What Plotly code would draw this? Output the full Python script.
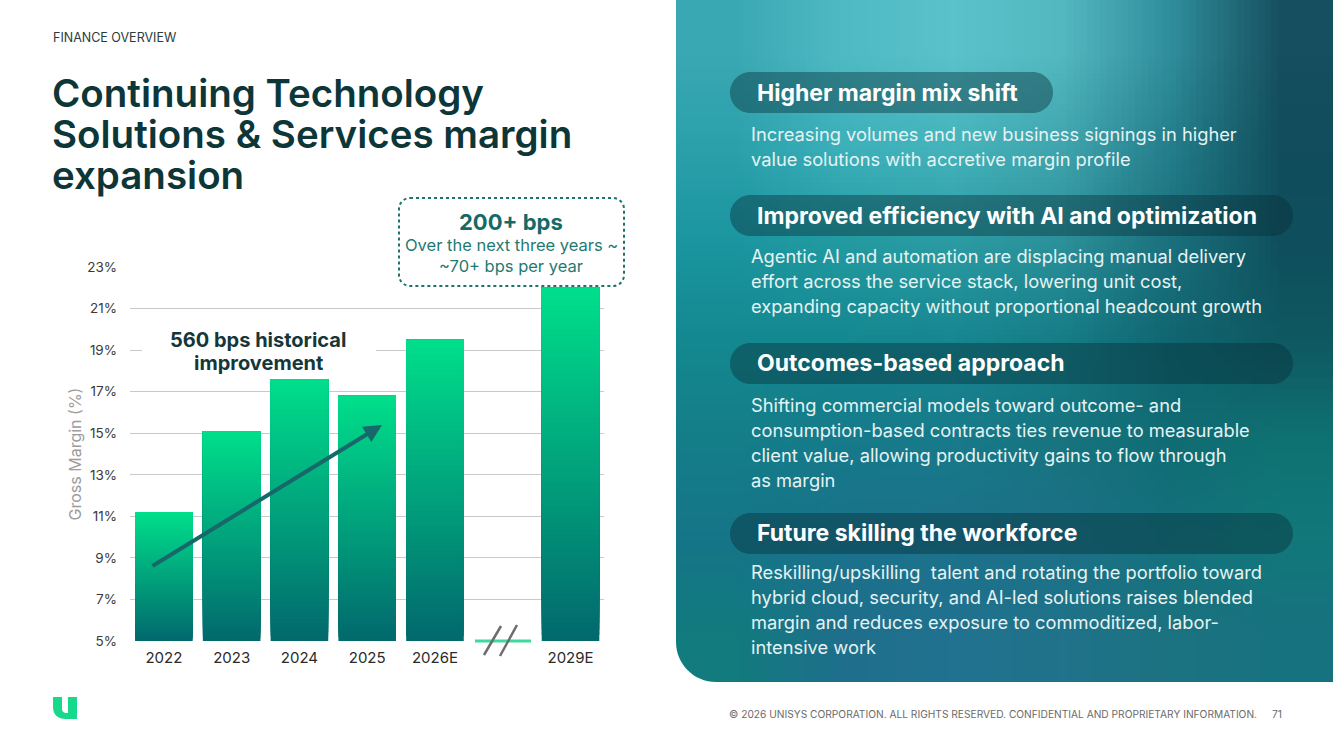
import base64
import struct
import zlib

import plotly.graph_objects as go

# ---------------- data ----------------
categories = ["2022", "2023", "2024", "2025", "2026E", " ", "2029E"]
gross_margin = [11.2, 15.1, 17.6, 16.8, 19.5, None, 22.0]
y_ticks = [5, 7, 9, 11, 13, 15, 17, 19, 21, 23]
y_tick_labels = ["5%", "7%", "9%", "11%", "13%", "15%", "17%", "19%", "21%", "23%"]

title_lines = ["Continuing Technology", "Solutions & Services margin", "expansion"]
section_label = "FINANCE OVERVIEW"
hist_note = ["560 bps historical", "improvement"]
fwd_note = ["200+ bps", "Over the next three years ~", "~70+ bps per year"]

panel_heads = [
    "Higher margin mix shift",
    "Improved efficiency with AI and optimization",
    "Outcomes-based approach",
    "Future skilling the workforce",
]
panel_bodies = [
    ["Increasing volumes and new business signings in higher",
     "value solutions with accretive margin profile"],
    ["Agentic AI and automation are displacing manual delivery",
     "effort across the service stack, lowering unit cost,",
     "expanding capacity without proportional headcount growth"],
    ["Shifting commercial models toward outcome- and",
     "consumption-based contracts ties revenue to measurable",
     "client value, allowing productivity gains to flow through",
     "as margin"],
    ["Reskilling/upskilling  talent and rotating the portfolio toward",
     "hybrid cloud, security, and AI-led solutions raises blended",
     "margin and reduces exposure to commoditized, labor-",
     "intensive work"],
]
footer = "© 2026 UNISYS CORPORATION. ALL RIGHTS RESERVED. CONFIDENTIAL AND PROPRIETARY INFORMATION."
page_no = "71"

# ---------------- helpers ----------------
W, H = 1333, 749
FONT = "Inter"


def px(x):
    return x / W


def py(y):
    return 1 - y / H


def hex2rgb(h):
    h = h.lstrip("#")
    return tuple(int(h[i:i + 2], 16) for i in (0, 2, 4))


def mix(c0, c1, t):
    a, b = hex2rgb(c0), hex2rgb(c1)
    return "rgb(%d,%d,%d)" % tuple(round(a[i] + (b[i] - a[i]) * t) for i in range(3))


def path_str(cmds, close=True):
    s = ""
    for cmd, ps in cmds:
        s += cmd + " " + " ".join("%.5f,%.5f" % (px(a), py(b)) for a, b in ps) + " "
    return s + ("Z" if close else "")


def rrect_path(x0, y0, x1, y1, r):
    k = 0.5523 * r
    return path_str([
        ("M", [(x0 + r, y0)]),
        ("L", [(x1 - r, y0)]),
        ("C", [(x1 - r + k, y0), (x1, y0 + r - k), (x1, y0 + r)]),
        ("L", [(x1, y1 - r)]),
        ("C", [(x1, y1 - r + k), (x1 - r + k, y1), (x1 - r, y1)]),
        ("L", [(x0 + r, y1)]),
        ("C", [(x0 + r - k, y1), (x0, y1 - r + k), (x0, y1 - r)]),
        ("L", [(x0, y0 + r)]),
        ("C", [(x0, y0 + r - k), (x0 + r - k, y0), (x0 + r, y0)]),
    ])


def png_uri(rows):
    h = len(rows)
    w = len(rows[0])
    raw = b"".join(b"\x00" + bytes([c for p in row for c in hex2rgb(p)]) for row in rows)

    def chunk(t, d):
        return struct.pack(">I", len(d)) + t + d + struct.pack(">I", zlib.crc32(t + d) & 0xFFFFFFFF)

    png = (b"\x89PNG\r\n\x1a\n"
           + chunk(b"IHDR", struct.pack(">IIBBBBB", w, h, 8, 2, 0, 0, 0))
           + chunk(b"IDAT", zlib.compress(raw))
           + chunk(b"IEND", b""))
    return "data:image/png;base64," + base64.b64encode(png).decode()


# background colour field of the right panel (style only)
panel_colors = [
    ["#3aa8b3", "#4fbac4", "#5ac2cb", "#54b8c0", "#2f8d9b", "#164f5f"],
    ["#2aa0ab", "#3cb0ba", "#45b3bb", "#3fa4ad", "#237d8a", "#114d5c"],
    ["#1a95a0", "#22999f", "#2a9aa2", "#2a8f98", "#1a6f7c", "#0f4f5c"],
    ["#14888f", "#148790", "#168690", "#157c86", "#106570", "#0e5962"],
    ["#147e88", "#167a8a", "#187a8a", "#17747f", "#106c74", "#0f7272"],
    ["#167589", "#1a728b", "#1c718a", "#1b7086", "#14727d", "#12787a"],
    ["#127b7e", "#1f6f8c", "#217290", "#20738a", "#1c7280", "#177280"],
]

# ---------------- bars (vertical gradient via overlapping layers) ----------------
fig = go.Figure()
N = 60
BAR_TOP = "#00df8b"
BAR_BOT = "#02686d"
floor = y_ticks[0]
for k in range(N):
    t = (k + 0.5) / N
    col = mix(BAR_BOT, BAR_TOP, t)
    base = [None if v is None else floor + (v - floor) * k / N for v in gross_margin]
    hgt = [None if v is None else (v - floor) * (1 - k / N) for v in gross_margin]
    fig.add_trace(go.Bar(x=categories, y=hgt, base=base, marker_color=col,
                         marker_line_width=0, hoverinfo="skip", showlegend=False))

fig.update_layout(
    width=W, height=H,
    margin=dict(l=0, r=0, t=0, b=0, pad=0, autoexpand=False),
    paper_bgcolor="white", plot_bgcolor="rgba(0,0,0,0)",
    barmode="overlay", bargap=0.15,
    showlegend=False, hovermode=False,
    font=dict(family=FONT),
    xaxis=dict(domain=[px(130), px(604.4)], type="category",
               categoryorder="array", categoryarray=categories,
               showgrid=False, zeroline=False, showline=False, automargin=False,
               ticks="", ticklabelstandoff=6,
               tickfont=dict(family=FONT, size=15, color="#2b2b2b")),
    yaxis=dict(domain=[py(641), py(267)], range=[4.999, 23.001],
               tickmode="array", tickvals=y_ticks, ticktext=y_tick_labels,
               showgrid=True, gridcolor="#c9c9c9", gridwidth=1,
               zeroline=False, showline=False, ticks="", automargin=False,
               ticklabelstandoff=12,
               tickfont=dict(family=FONT, size=13.5, color="#3a3a3a"),
               title=dict(text="Gross Margin (%)", standoff=1,
                          font=dict(family=FONT, size=16, color="#9c9c9c"))),
)

# ---------------- right panel background ----------------
fig.add_layout_image(dict(source=png_uri(panel_colors), xref="paper", yref="paper",
                          x=px(676), y=py(0), sizex=px(1333) - px(676), sizey=py(0) - py(682),
                          xanchor="left", yanchor="top", sizing="stretch", layer="below"))

shapes = []
# rounded bottom-left corner mask
r = 40
k = 0.5523 * r
shapes.append(dict(type="path", xref="paper", yref="paper", layer="above",
                   path=path_str([("M", [(676, 682 - r)]), ("L", [(675, 682 - r)]), ("L", [(675, 683)]),
                                  ("L", [(676 + r, 683)]), ("L", [(676 + r, 682)]),
                                  ("C", [(676 + r - k, 682), (676, 682 - r + k), (676, 682 - r)])]),
                   fillcolor="white", line=dict(width=0)))

# heading pills
pill_boxes = [(730, 72, 1053, 113), (730, 195, 1293, 236), (730, 343, 1293, 384), (730, 513, 1293, 554)]
for (x0, y0, x1, y1) in pill_boxes:
    shapes.append(dict(type="path", xref="paper", yref="paper", layer="above",
                       path=rrect_path(x0, y0, x1, y1, (y1 - y0) / 2),
                       fillcolor="rgba(6,46,54,0.42)", line=dict(width=0)))

# dotted callout box
shapes.append(dict(type="path", xref="paper", yref="paper", layer="above",
                   path=rrect_path(399, 198, 624, 286, 11),
                   fillcolor="white", line=dict(color="#1e7468", width=2, dash="dot")))
# white backing behind historical note
shapes.append(dict(type="rect", xref="paper", yref="paper", layer="above",
                   x0=px(142), x1=px(376), y0=py(375), y1=py(324),
                   fillcolor="white", line=dict(width=0)))
# axis break
shapes.append(dict(type="line", xref="paper", yref="paper", layer="above",
                   x0=px(475), x1=px(531), y0=py(641), y1=py(641),
                   line=dict(color="#3fd9a0", width=3)))
for (xa, ya, xb, yb) in [(484, 655, 501, 626), (500, 656, 517, 625)]:
    shapes.append(dict(type="line", xref="paper", yref="paper", layer="above",
                       x0=px(xa), y0=py(ya), x1=px(xb), y1=py(yb),
                       line=dict(color="#6d6d6d", width=2.5)))
# logo
shapes.append(dict(type="path", xref="paper", yref="paper", layer="above",
                   path=path_str([("M", [(53, 697)]), ("L", [(62, 697)]), ("L", [(62, 709)]),
                                  ("C", [(62, 712), (64, 713), (66, 713)]),
                                  ("L", [(68, 713)]), ("L", [(68, 697)]), ("L", [(77, 697)]),
                                  ("L", [(77, 719)]), ("L", [(66, 719)]),
                                  ("C", [(58, 719), (53, 715), (53, 707)])]),
                   fillcolor="#16d98b", line=dict(width=0)))
fig.update_layout(shapes=shapes)

# ---------------- text ----------------
ann = []


def text(x, y, s, size, color, weight=400, anchor="left", family=FONT):
    ann.append(dict(x=px(x), y=py(y), xref="paper", yref="paper", text=s, showarrow=False,
                    xanchor=anchor, yanchor="middle",
                    font=dict(family=family, size=size, color=color, weight=weight)))


text(51, 37, section_label, 12.5, "#2a3b3d")
for i, line in enumerate(title_lines):
    text(50, 93 + 41 * i, line, 38.5, "#0d3638", weight=600)

text(511, 222, fwd_note[0], 22, "#146b66", weight=700, anchor="center")
text(511, 245, fwd_note[1], 16.5, "#1f7a70", anchor="center")
text(511, 266, fwd_note[2], 16.5, "#1f7a70", anchor="center")

text(258, 340, hist_note[0], 20, "#14373a", weight=700, anchor="center")
text(258, 363, hist_note[1], 20, "#14373a", weight=700, anchor="center")

head_y = [93, 216, 363, 533]
body_y0 = [134, 256, 405, 572]
for hy, head, by, body in zip(head_y, panel_heads, body_y0, panel_bodies):
    text(755, hy, head, 23, "white", weight=700)
    for j, line in enumerate(body):
        text(749, by + 25 * j, line, 18.3, "#e6f3f3")

text(727, 714, footer, 10.2, "#6a6a6a")
text(1270, 714, page_no, 10.2, "#6a6a6a")

# trend arrow
ann.append(dict(x=px(382), y=py(425), xref="paper", yref="paper", ax=151 - 382, ay=567 - 425,
                axref="pixel", ayref="pixel", text="", showarrow=True,
                arrowhead=2, arrowsize=0.9, arrowwidth=4, arrowcolor="#17686a", standoff=0))

fig.update_layout(annotations=ann)

fig.write_html(
    "out.html",
    config={"displayModeBar": False, "responsive": False},
    post_script="document.body.style.margin='0';document.body.style.overflow='hidden';",
)
